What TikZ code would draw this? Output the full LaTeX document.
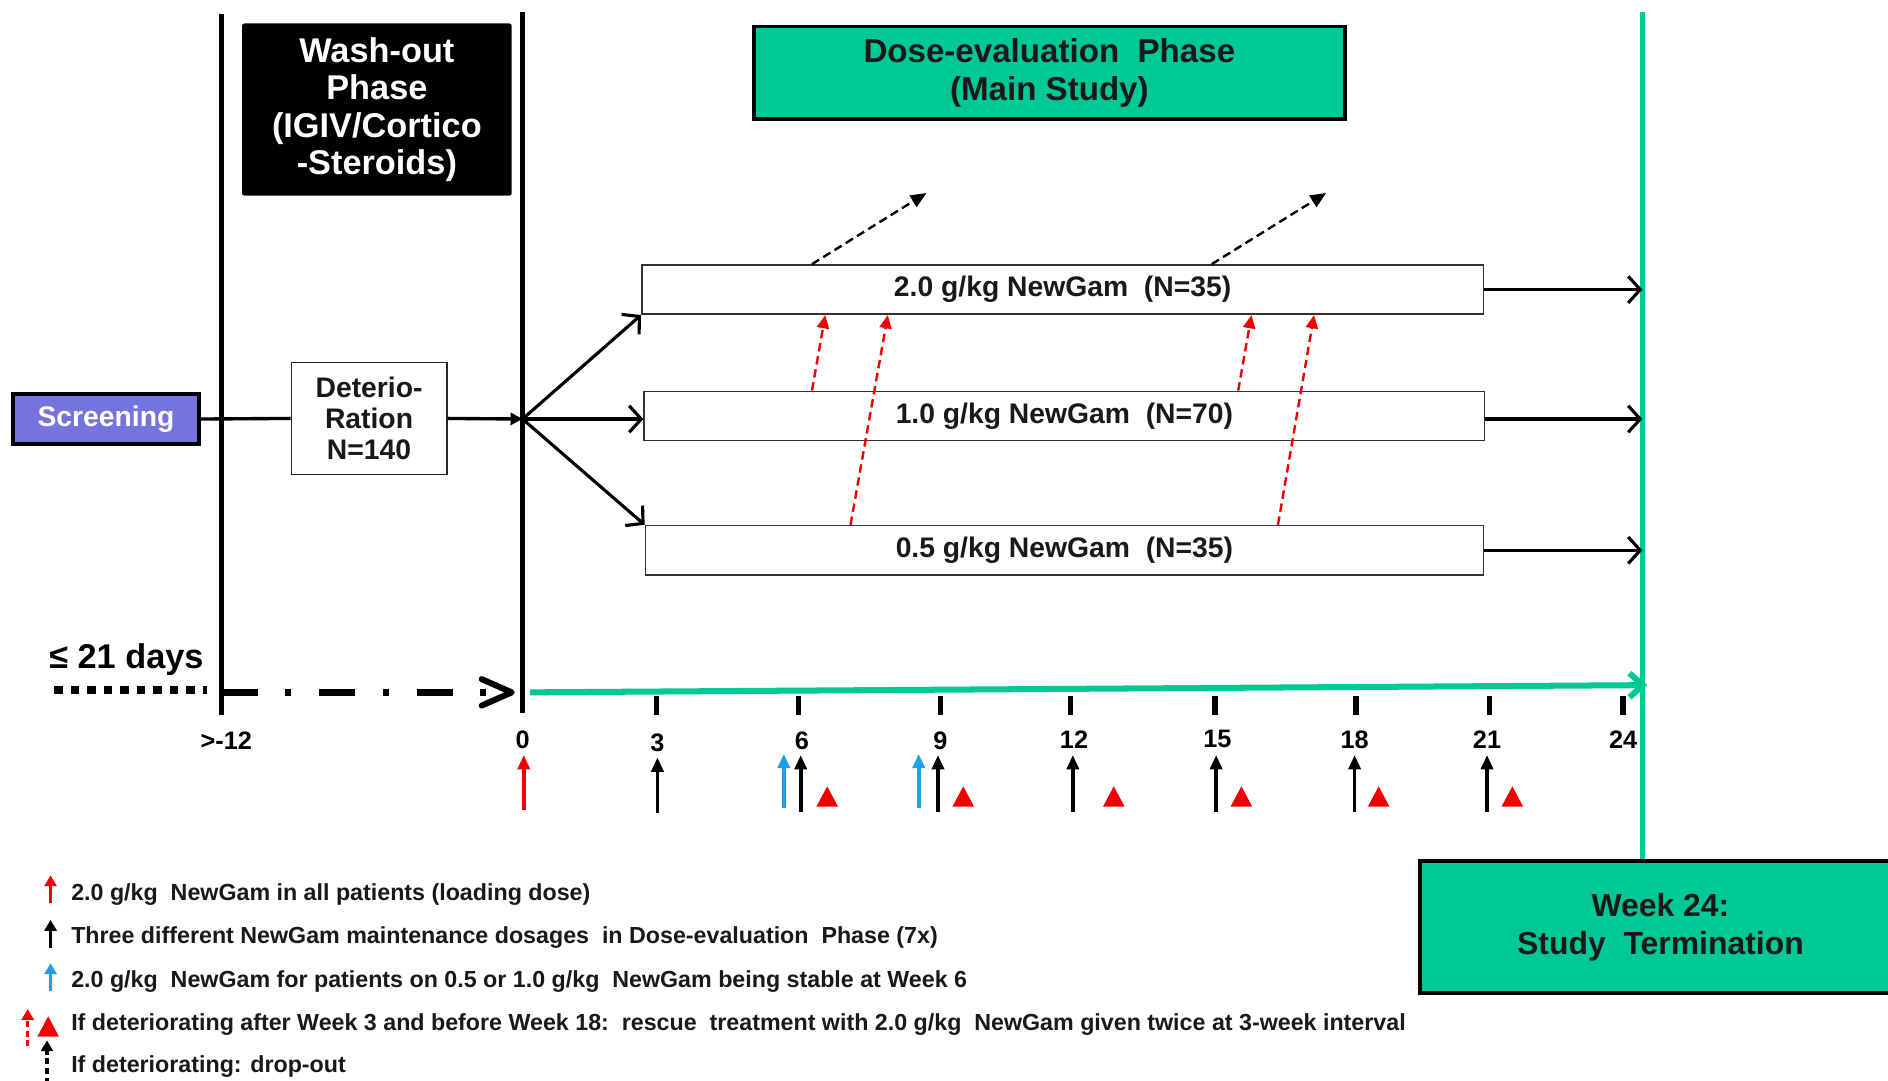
\documentclass[tikz,border=0pt]{standalone}
\usepackage{fontspec}
\setmainfont{Liberation Sans}
\usetikzlibrary{arrows.meta,calc}
\definecolor{tgreen}{HTML}{00C896}
\definecolor{scrpurple}{HTML}{7474DC}
\definecolor{tblue}{HTML}{1E9FE8}
\definecolor{tred}{HTML}{F00000}
\tikzset{
  dosebox/.style={draw=black!80, line width=1.3pt, fill=white, minimum height=41pt, inner sep=0pt,
    text=black!90, font=\bfseries\fontsize{23.5}{26}\selectfont},
  phasebox/.style={draw=black, line width=3pt, fill=tgreen, inner sep=0pt, align=center,
    text=black!90, font=\bfseries\fontsize{27.5}{31}\selectfont},
  openarr/.style={line width=2.6pt, -{Straight Barb[length=10pt,width=22pt]}},
  dropout/.style={line width=2pt, dash pattern=on 7pt off 4pt, -{Triangle[length=13pt,width=11pt]}},
  rescue/.style={tred, line width=2pt, dash pattern=on 7pt off 4pt, -{Triangle[length=11pt,width=10pt]}},
  dosearr/.style={line width=3pt, -{Triangle[length=12pt,width=10pt]}},
  legarr/.style={line width=2.6pt, -{Triangle[length=9pt,width=10pt]}},
  weektick/.style={line width=4.5pt},
  weeklab/.style={font=\bfseries\fontsize{21}{24}\selectfont, inner sep=0pt},
  legtext/.style={font=\bfseries\fontsize{19.3}{22}\selectfont, anchor=west, inner sep=0pt, text=black!90},
}
\newcommand\redtri[2]{\fill[tred] (#1-9,#2) -- (#1+9,#2) -- (#1,#2-17) -- cycle;}
\begin{document}
\begin{tikzpicture}[x=1pt,y=-1pt]
\useasboundingbox (0,0) rectangle (1568,897);
\fill[white] (0,0) rectangle (1568,897);
\clip (0,0) rectangle (1568,897);

% vertical phase lines
\coordinate (vLtop) at (184,12);
\coordinate (vLbot) at (184,594);
\coordinate (v0top) at (434,10);
\coordinate (v0bot) at (434,592);
\draw[line width=4pt] (vLtop) -- (vLbot);
\draw[line width=4pt] (v0top) -- (v0bot);

% boxes
\node[draw=black, line width=3.5pt, fill=scrpurple, text=white, minimum width=154pt, minimum height=42pt,
      inner sep=0pt, font=\bfseries\fontsize{23.5}{26}\selectfont] (scr) at (88,348) {Screening};
\node[fill=black, text=white, rounded corners=2pt, minimum width=224pt, minimum height=143pt, inner sep=0pt,
      align=center, font=\bfseries\fontsize{28.5}{31}\selectfont] (wash) at (313,91)
      {Wash-out\\Phase\\(IGIV/Cortico\\-Steroids)};
\node[draw=black!85, line width=1.3pt, fill=white, minimum width=129pt, minimum height=93pt, inner sep=0pt,
      align=center, text=black!90, font=\bfseries\fontsize{23.5}{25.5}\selectfont] (det) at (306.5,347.5)
      {Deterio-\\Ration\\N=140};
\node[phasebox, minimum width=491pt, minimum height=77pt] (doseeval) at (871.5,60.5)
      {Dose-evaluation\ \ Phase\\(Main Study)};
\node[dosebox, minimum width=699pt] (b1) at (882.5,240.5) {2.0 g/kg NewGam\ \ (N=35)};
\node[dosebox, minimum width=698pt] (b2) at (884,345.5) {1.0 g/kg NewGam\ \ (N=70)};
\node[dosebox, minimum width=696pt] (b3) at (884,457) {0.5 g/kg NewGam\ \ (N=35)};

% green end line and termination box
\node[phasebox, line width=3.5pt, minimum width=400pt, minimum height=110pt,
      font=\bfseries\fontsize{26.5}{32}\selectfont] (term) at (1379,770)
      {Week 24:\\Study\ \ Termination};
\coordinate (gtop) at (1364,10);
\draw[tgreen, line width=4.5pt] (gtop) -- (gtop |- term.north);

% main flow
\coordinate (hub) at (434,348);
\draw[line width=2.8pt] (scr.east) -- (det.west);
\draw[line width=2.8pt, -{Triangle[length=10pt,width=10pt]}] (det.east) -- (hub);
\draw[openarr] (hub) -- (b1.south west);
\draw[openarr] (hub) -- (b2.west |- hub);
\draw[openarr] (hub) -- (b3.north west);
\draw[openarr] (b1.east) -- (b1.east -| gtop);
\draw[openarr] (b2.east |- hub) -- (hub -| gtop);
\draw[openarr] (b3.east) -- (b3.east -| gtop);

% drop-out arrows
\draw[dropout] ([xshift=142pt]b1.north west) -- ++(95,-59);
\draw[dropout] ([xshift=474pt]b1.north west) -- ++(95,-59);

% rescue arrows
\draw[rescue] ([xshift=140pt]b2.north west) -- ([xshift=153pt]b1.south west);
\draw[rescue] ([xshift=171pt]b3.north west) -- ([xshift=205pt]b1.south west);
\draw[rescue] ([xshift=494pt]b2.north west) -- ([xshift=507pt]b1.south west);
\draw[rescue] ([xshift=526pt]b3.north west) -- ([xshift=559pt]b1.south west);

% screening period timeline
\coordinate (dotS) at (45,573);
\coordinate (dotE) at (172,573);
\draw[line width=6.5pt, dash pattern=on 7pt off 6.7pt] (dotS) -- (dotE);
\coordinate (wkm12) at (184,575);
\coordinate (wk0) at (434,575);
\draw[line width=6pt, dash pattern=on 30pt off 23pt on 5pt off 23pt] (wkm12) -- (405,575);
\draw[line width=5pt, line join=round, line cap=round] (400,564) -- ([xshift=-9pt]wk0) -- (400,586);
\node[font=\bfseries\fontsize{28.5}{30}\selectfont, inner sep=0pt] (days) at (105,548) {≤ 21 days};

% study timeline
\coordinate (tlS) at (440,575);
\coordinate (tlE) at (1368,569);
\draw[tgreen, line width=5pt, -{Straight Barb[length=11pt,width=20pt]}] (tlS) -- (tlE);
\foreach \x in {545,663,781,889,1009,1126,1237,1348}
  {\draw[weektick] (\x,578) -- (\x,594);}
\node[weeklab] at (188,615) {>-12};
\node[weeklab] at (434,614) {0};
\node[weeklab] at (546,617) {3};
\node[weeklab] at (666,615) {6};
\node[weeklab] at (781,615) {9};
\node[weeklab] at (892,614) {12};
\node[weeklab] at (1011,614) {15};
\node[weeklab] at (1125,614) {18};
\node[weeklab] at (1235,614) {21};
\node[weeklab] at (1348,614) {24};

% dosing arrows
\draw[dosearr, tred] (435,673) -- (435,627);
\draw[dosearr] (546,675) -- (546,629);
\draw[dosearr, tblue] (651,671) -- (651,626);
\draw[dosearr] (665,674) -- (665,627);
\draw[dosearr, tblue] (763,671) -- (763,626);
\draw[dosearr] (779,674) -- (779,627);
\foreach \x in {891,1010,1125,1235}
  {\draw[dosearr] (\x,674) -- (\x,627);}
\foreach \x in {687,800,925,1031,1145,1256}
  {\redtri{\x}{670}}

% legend
\draw[legarr, tred] (42,750) -- (42,727);
\node[legtext] (l1) at (59,743) {2.0 g/kg\ \ NewGam in all patients (loading dose)};
\draw[legarr] (42,787) -- (42,764);
\node[legtext] (l2) at (59,779) {Three different NewGam maintenance dosages\ \ in Dose-evaluation\ \ Phase (7x)};
\draw[legarr, tblue] (42,823) -- (42,800);
\node[legtext] (l3) at (59,815) {2.0 g/kg\ \ NewGam for patients on 0.5 or 1.0 g/kg\ \ NewGam being stable at Week 6};
\draw[legarr, tred, dash pattern=on 5pt off 3pt] (23,869) -- (23,838);
\redtri{40}{861}
\node[legtext] (l4) at (59,851) {If deteriorating after Week 3 and before Week 18:\ \ rescue\ \ treatment with 2.0 g/kg\ \ NewGam given twice at 3-week interval};
\draw[legarr, dash pattern=on 5pt off 3pt] (39,900) -- (39,864);
\node[legtext] (l5) at (59,886) {If deteriorating: drop-out};
\end{tikzpicture}
\end{document}
